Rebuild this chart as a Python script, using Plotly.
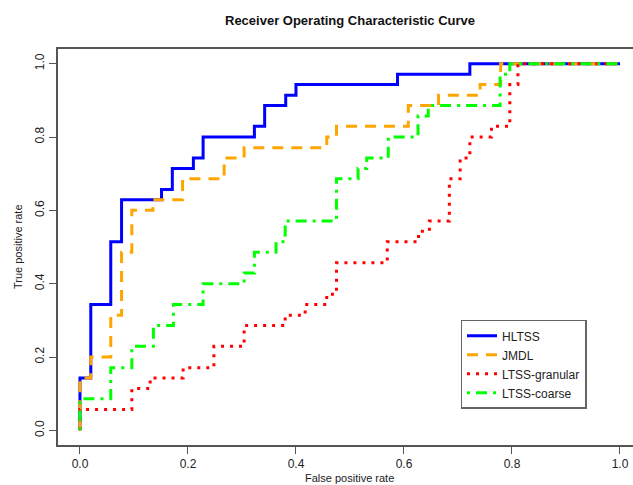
import plotly.graph_objects as go

# ROC curve points (false positive rate, true positive rate)
hltss_fpr = [0, 0, 0.020, 0.057, 0.077, 0.151, 0.171, 0.210, 0.228, 0.323, 0.342, 0.381, 0.400, 0.588, 0.722, 1.0]
hltss_tpr = [0, 0.143, 0.343, 0.514, 0.629, 0.657, 0.714, 0.743, 0.800, 0.829, 0.886, 0.914, 0.943, 0.971, 1.0, 1.0]

jmdl_fpr = [0, 0, 0.020, 0.057, 0.077, 0.096, 0.135, 0.190, 0.267, 0.304, 0.457, 0.475, 0.608, 0.664, 0.741, 0.779, 1.0]
jmdl_tpr = [0, 0.143, 0.200, 0.314, 0.486, 0.600, 0.629, 0.686, 0.743, 0.771, 0.800, 0.829, 0.886, 0.914, 0.943, 1.0, 1.0]

gran_fpr = [0, 0, 0.096, 0.130, 0.191, 0.248, 0.304, 0.380, 0.417, 0.457, 0.475, 0.569, 0.627, 0.647, 0.684, 0.704, 0.722, 0.762, 0.796, 0.811, 1.0]
gran_tpr = [0, 0.057, 0.114, 0.143, 0.171, 0.229, 0.286, 0.314, 0.343, 0.371, 0.457, 0.514, 0.543, 0.571, 0.686, 0.743, 0.800, 0.829, 0.943, 1.0, 1.0]

coarse_fpr = [0, 0, 0.057, 0.096, 0.136, 0.173, 0.228, 0.304, 0.323, 0.363, 0.380, 0.475, 0.515, 0.531, 0.571, 0.626, 0.645, 0.778, 0.796, 1.0]
coarse_tpr = [0, 0.086, 0.171, 0.229, 0.286, 0.343, 0.400, 0.429, 0.486, 0.514, 0.571, 0.686, 0.714, 0.743, 0.800, 0.857, 0.886, 0.971, 1.0, 1.0]

tick_vals = [0, 0.2, 0.4, 0.6, 0.8, 1.0]
tick_text = ["0.0", "0.2", "0.4", "0.6", "0.8", "1.0"]

series = [
    ("HLTSS", hltss_fpr, hltss_tpr, "#0000FF", "solid"),
    ("JMDL", jmdl_fpr, jmdl_tpr, "#FFA500", "11px,8px"),
    ("LTSS-granular", gran_fpr, gran_tpr, "#FF0000", "3px,6px"),
    ("LTSS-coarse", coarse_fpr, coarse_tpr, "#00FF00", "3px,6px,11px,6px"),
]

fig = go.Figure()
for name, xs, ys, col, dash in series:
    fig.add_trace(go.Scatter(
        x=xs, y=ys, mode="lines", name=name,
        line=dict(color=col, width=3, dash=dash, shape="hv"),
    ))

font_family = "Liberation Sans, Arial, sans-serif"
axis_col = "#555555"
text_col = "#222222"

fig.update_layout(
    width=633, height=485,
    margin=dict(l=58, r=0, t=49, b=40),
    paper_bgcolor="white", plot_bgcolor="white",
    font=dict(family=font_family, size=12, color=text_col),
    showlegend=True,
    legend=dict(
        x=0.7, y=0.316, xanchor="left", yanchor="top",
        bordercolor="#666666", borderwidth=1.5,
        bgcolor="white",
        font=dict(family=font_family, size=12, color=text_col),
        tracegroupgap=0, itemwidth=30,
    ),
    xaxis=dict(
        range=[-0.0407, 1.0241], tickvals=tick_vals, ticktext=tick_text,
        showgrid=False, zeroline=False,
        showline=True, linecolor=axis_col, linewidth=1.5, mirror=True,
        ticks="outside", ticklen=7, tickcolor=axis_col, tickwidth=1,
        tickfont=dict(size=12, color=text_col),
    ),
    yaxis=dict(
        range=[-0.04, 1.04], tickvals=tick_vals, ticktext=tick_text,
        showgrid=False, zeroline=False,
        showline=True, linecolor=axis_col, linewidth=1.5, mirror=False,
        ticks="outside", ticklen=7, tickcolor=axis_col, tickwidth=1,
        tickangle=-90, tickfont=dict(size=12, color=text_col),
    ),
    annotations=[
        dict(text="<b>Receiver Operating Characteristic Curve</b>", x=0.5, xref="x",
             y=1.073, yref="paper", showarrow=False, xanchor="center", yanchor="middle",
             font=dict(size=13, color="#111111")),
        dict(text="False positive rate", x=0.5, xref="x",
             y=-0.083, yref="paper", showarrow=False, xanchor="center", yanchor="middle",
             font=dict(size=11, color=text_col)),
        dict(text="True positive rate", x=-0.0695, xref="paper",
             y=0.5, yref="paper", showarrow=False, xanchor="center", yanchor="middle",
             textangle=-90, font=dict(size=11, color=text_col)),
    ],
)

fig.write_html("out.html")
